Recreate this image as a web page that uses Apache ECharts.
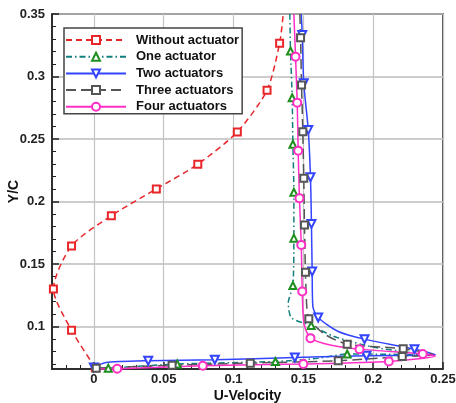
<!DOCTYPE html>
<html><head><meta charset="utf-8">
<script src="https://cdn.jsdelivr.net/npm/echarts@6/dist/echarts.min.js"></script>
<style>html,body{margin:0;padding:0;background:#fff}#c{width:456px;height:403px}</style>
</head><body><div id="c"></div>
<script>
const seriesNames = ['Without actuator', 'One actuator', 'Two actuators', 'Three actuators', 'Four actuators'];

const withoutX = [0.001, -0.016, -0.029, -0.016, 0.0125, 0.0447, 0.0744, 0.1027, 0.124, 0.133, 0.1356];
const withoutY = [0.067, 0.097, 0.130, 0.1645, 0.1887, 0.210, 0.2298, 0.2557, 0.289, 0.3266, 0.35];
const withoutMark = [1, 1, 1, 1, 1, 1, 1, 1, 1, 1, 0];

const oneX = [0.1403, 0.1408, 0.142, 0.1425, 0.1432, 0.1432, 0.1425, 0.1392, 0.1415, 0.1556, 0.172, 0.2, 0.225, 0.238, 0.21, 0.1814, 0.16, 0.13, 0.0597, 0.0103, 0.0];
const oneY = [0.35, 0.3204, 0.283, 0.2458, 0.2074, 0.1707, 0.1328, 0.119, 0.107, 0.1008, 0.092, 0.0835, 0.0795, 0.0772, 0.0778, 0.078, 0.0745, 0.072, 0.0700, 0.0667, 0.0664];
const oneMark = [0, 1, 1, 1, 1, 1, 1, 0, 0, 1, 0, 0, 0, 0, 0, 1, 0, 1, 1, 1, 0];

const twoX = [0.1485, 0.1492, 0.1503, 0.1535, 0.1551, 0.1558, 0.1563, 0.1568, 0.1606, 0.175, 0.1938, 0.2296, 0.2445, 0.1952, 0.1439, 0.0866, 0.0389, 0.008, 0.0];
const twoY = [0.35, 0.3332, 0.2946, 0.2573, 0.2194, 0.1821, 0.144, 0.116, 0.1072, 0.096, 0.0899, 0.0819, 0.0775, 0.0766, 0.0752, 0.0734, 0.0726, 0.071, 0.0672];
const twoMark = [0, 1, 1, 1, 1, 1, 1, 0, 1, 0, 1, 1, 0, 1, 1, 1, 1, 0, 1];

const threeX = [0.1475, 0.148, 0.1487, 0.1496, 0.1503, 0.1508, 0.1515, 0.1525, 0.1539, 0.165, 0.1814, 0.2215, 0.243, 0.2208, 0.175, 0.112, 0.056, 0.0017];
const threeY = [0.35, 0.331, 0.2932, 0.2559, 0.2186, 0.1813, 0.1435, 0.115, 0.1062, 0.094, 0.0859, 0.0822, 0.0775, 0.076, 0.0726, 0.0707, 0.069, 0.0667];
const threeMark = [0, 1, 1, 1, 1, 1, 1, 0, 1, 0, 1, 1, 0, 1, 1, 1, 1, 1];

const fourX = [0.1432, 0.1444, 0.1456, 0.1463, 0.1472, 0.1485, 0.1492, 0.1505, 0.1551, 0.17, 0.1902, 0.2355, 0.2445, 0.2112, 0.150, 0.078, 0.0167, 0.0];
const fourY = [0.35, 0.3159, 0.2791, 0.2407, 0.2026, 0.1653, 0.128, 0.102, 0.0907, 0.085, 0.0819, 0.078, 0.0765, 0.072, 0.070, 0.0686, 0.0662, 0.066];
const fourMark = [0, 1, 1, 1, 1, 1, 1, 0, 1, 0, 1, 1, 0, 1, 1, 1, 1, 0];

const xTickValues = [0, 0.05, 0.1, 0.15, 0.2, 0.25];
const xMinorValues = [-0.02, -0.01, 0.01, 0.02, 0.03, 0.04, 0.06, 0.07, 0.08, 0.09, 0.11, 0.12, 0.13, 0.14, 0.16, 0.17, 0.18, 0.19, 0.21, 0.22, 0.23, 0.24];
const yTickValues = [0.1, 0.15, 0.2, 0.25, 0.3, 0.35];
const yMinorValues = [0.07, 0.08, 0.09, 0.11, 0.12, 0.13, 0.14, 0.16, 0.17, 0.18, 0.19, 0.21, 0.22, 0.23, 0.24, 0.26, 0.27, 0.28, 0.29, 0.31, 0.32, 0.33, 0.34];

const FONT = '"Liberation Sans", Arial, sans-serif';

function build(name, xs, ys, marks, lineColor, markColor, symbol, dash, rotate, size) {
  return {
    name: name, type: 'line', clip: false, smooth: 0.25, showAllSymbol: true,
    symbol: symbol, symbolSize: size, symbolRotate: rotate,
    lineStyle: { color: lineColor, width: 1.5, type: dash },
    itemStyle: { color: markColor, borderColor: markColor, borderWidth: 1.3 },
    emphasis: { disabled: true },
    data: xs.map((x, i) => ({ value: [x, ys[i]], symbol: marks[i] ? symbol : 'none' }))
  };
}

const chart = echarts.init(document.getElementById('c'), null, { renderer: 'canvas' });
const axisColor = '#222';
chart.setOption({
  animation: false,
  backgroundColor: '#fff',
  grid: { left: 52, right: 13, top: 14, bottom: 34, show: true, borderColor: axisColor, borderWidth: 1.5, backgroundColor: 'transparent', containLabel: false, outerBoundsMode: 'none' },
  legend: {
    data: seriesNames, orient: 'vertical', left: 64, top: 28,
    itemWidth: 60, itemHeight: 10, itemGap: 2.7,
    padding: [5, 3, 0, 1],
    backgroundColor: '#fff', borderColor: '#444', borderWidth: 1.5,
    textStyle: { fontFamily: FONT, fontWeight: 'bold', fontSize: 13, color: '#111', lineHeight: 14, padding: [0, 0, 0, 5] }
  },
  xAxis: [{
    type: 'value', min: -0.03, max: 0.25, position: 'bottom',
    name: 'U-Velocity', nameLocation: 'middle', nameGap: 20, nameMoveOverlap: false,
    nameTextStyle: { fontFamily: FONT, fontWeight: 'bold', fontSize: 14, color: '#111' },
    axisLine: { show: true, onZero: false, lineStyle: { color: axisColor, width: 1.5 } },
    axisTick: { show: true, inside: true, length: 7, customValues: xTickValues, lineStyle: { color: axisColor, width: 1.5 } },
    axisLabel: { customValues: xTickValues, margin: 4, fontFamily: FONT, fontWeight: 'bold', fontSize: 13, color: '#222', formatter: v => String(v) },
    splitLine: { show: true, lineStyle: { color: '#c4c4c4', width: 1.2 } }
  }, {
    type: 'value', min: -0.03, max: 0.25, position: 'bottom',
    axisLine: { show: false, onZero: false },
    axisTick: { show: true, inside: true, length: 4, customValues: xMinorValues, lineStyle: { color: axisColor, width: 1 } },
    axisLabel: { show: false },
    splitLine: { show: false }
  }],
  yAxis: [{
    type: 'value', min: 0.066, max: 0.35, position: 'left',
    name: 'Y/C', nameLocation: 'middle', nameGap: 31, nameMoveOverlap: false,
    nameTextStyle: { fontFamily: FONT, fontWeight: 'bold', fontSize: 14, color: '#111' },
    axisLine: { show: true, onZero: false, lineStyle: { color: axisColor, width: 1.5 } },
    axisTick: { show: true, inside: true, length: 7, customValues: yTickValues, lineStyle: { color: axisColor, width: 1.5 } },
    axisLabel: { customValues: yTickValues, margin: 7, fontFamily: FONT, fontWeight: 'bold', fontSize: 13, color: '#222', formatter: v => String(v) },
    splitLine: { show: true, lineStyle: { color: '#bdbdbd', width: 1.5 } }
  }, {
    type: 'value', min: 0.066, max: 0.35, position: 'left',
    axisLine: { show: false, onZero: false },
    axisTick: { show: true, inside: true, length: 4, customValues: yMinorValues, lineStyle: { color: axisColor, width: 1 } },
    axisLabel: { show: false },
    splitLine: { show: false }
  }],
  series: [
    build(seriesNames[0], withoutX, withoutY, withoutMark, '#e8262a', '#e8262a', 'emptyRect', [6, 4], 0, 7),
    build(seriesNames[1], oneX, oneY, oneMark, '#127f7f', '#1f8f1f', 'emptyTriangle', [6, 3, 1.5, 3], 0, 7),
    build(seriesNames[2], twoX, twoY, twoMark, '#3344ff', '#3344ff', 'emptyTriangle', 'solid', 180, 8),
    build(seriesNames[3], threeX, threeY, threeMark, '#555555', '#555555', 'emptyRect', [10, 5], 0, 7),
    build(seriesNames[4], fourX, fourY, fourMark, '#ff2ec4', '#ff2ec4', 'emptyCircle', 'solid', 0, 8)
  ]
});
</script>
</body></html>
